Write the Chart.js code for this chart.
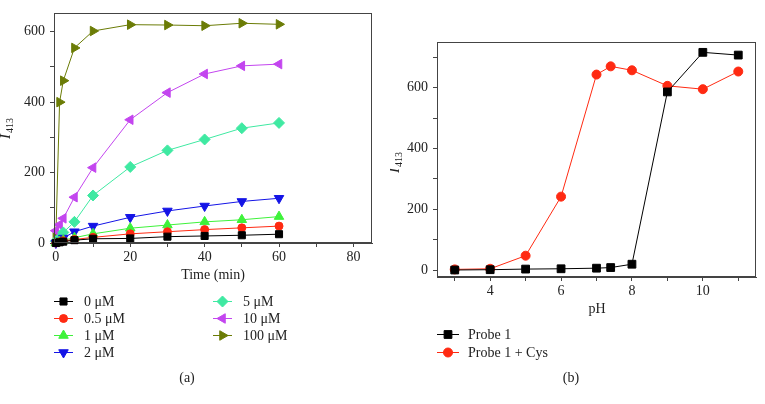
<!DOCTYPE html>
<html>
<head>
<meta charset="utf-8">
<script src="https://cdn.jsdelivr.net/npm/chart.js@4/dist/chart.umd.min.js"></script>
<style>
  html, body { margin: 0; padding: 0; background: #fff; }
  #wrap { position: relative; width: 765px; height: 404px; }
  canvas { position: absolute; top: 0; }
</style>
</head>
<body>
<div id="wrap">
  <canvas id="chartA" width="390" height="404" style="left:0"></canvas>
  <canvas id="chartB" width="375" height="404" style="left:390px"></canvas>
</div>
<script>
// panel (a): intensity vs time for each concentration
const timeMin = [0, 1, 2, 5, 10, 20, 30, 40, 50, 60];
const conc0   = [0, 2, 4, 8, 12, 13, 18, 20, 22, 25];
const conc05  = [0, 3, 6, 10, 16, 26, 32, 38, 43, 48];
const conc1   = [0, 4, 8, 15, 26, 42, 51, 60, 66, 75];
const conc2   = [0, 6, 14, 32, 48, 73, 91, 105, 118, 127];
const conc5   = [5, 14, 30, 60, 135, 216, 263, 294, 326, 341];
const conc10  = [35, 52, 70, 130, 214, 350, 427, 480, 503, 508];
const conc100 = [20, 400, 461, 554, 602, 620, 619, 617, 624, 621];
const concLabels = ['0 μM', '0.5 μM', '1 μM', '2 μM', '5 μM', '10 μM', '100 μM'];
const timeTicks = [0, 10, 20, 30, 40, 50, 60, 70, 80];
const timeTickLabels = [0, 20, 40, 60, 80];
const intTicksA = [0, 100, 200, 300, 400, 500, 600];

// panel (b): intensity vs pH
const pH = [3, 4, 5, 6, 7, 7.4, 8, 9, 10, 11];
const probe1 = [1, 2, 4, 5, 7, 9, 20, 586, 716, 707];
const probe1Cys = [3, 5, 48, 242, 643, 670, 657, 606, 595, 653];
const pbLabels = ['Probe 1', 'Probe 1 + Cys'];
const pHTicks = [3, 4, 5, 6, 7, 8, 9, 10, 11];
const pHTickLabels = [4, 6, 8, 10];
const intTicksB = [0, 100, 200, 300, 400, 500, 600, 700];
const intTickLabels = [0, 200, 400, 600];

const SERIF = '"Liberation Serif", "DejaVu Serif", serif';
Chart.defaults.font.family = SERIF;
Chart.defaults.font.size = 14;
Chart.defaults.color = '#222';

function ds(label, data, color, style, rot, r) {
  return {
    label: label, data: data,
    borderColor: color, backgroundColor: color,
    pointBackgroundColor: color, pointBorderColor: color,
    borderWidth: 1, pointBorderWidth: 1,
    pointStyle: style, pointRotation: rot, pointRadius: r, pointHoverRadius: r,
    tension: 0, clip: 10
  };
}

function toXY(xs, ys) {
  return xs.map((x, i) => ({ x: x, y: ys[i] }));
}

function axis(min, max, ticks, shown, fitKey, fitVal) {
  return {
    type: 'linear', min: min, max: max,
    afterBuildTicks: s => { s.ticks = ticks.map(v => ({ value: v })); },
    afterFit: s => { s[fitKey] = fitVal; },
    ticks: { callback: v => shown.includes(v) ? v : '', padding: fitKey === 'width' ? 5 : 2, color: '#222', autoSkip: false, maxRotation: 0 },
    grid: { drawOnChartArea: false, drawTicks: true, tickLength: 4, color: '#444' },
    border: { color: '#444', width: 1 }
  };
}

function yTitle(ctx, x, y) {
  ctx.save();
  ctx.translate(x, y);
  ctx.rotate(-Math.PI / 2);
  ctx.fillStyle = '#222';
  ctx.textBaseline = 'alphabetic';
  ctx.textAlign = 'left';
  ctx.font = 'italic 15px ' + SERIF;
  const w1 = ctx.measureText('I').width;
  ctx.font = '10px ' + SERIF;
  const w2 = ctx.measureText('413').width;
  const start = -(w1 + w2) / 2;
  ctx.font = 'italic 15px ' + SERIF;
  ctx.fillText('I', start, 0);
  ctx.font = '10px ' + SERIF;
  ctx.fillText('413', start + w1 + 1, 3);
  ctx.restore();
}

const decor = {
  id: 'decor',
  afterDraw(chart, args, o) {
    const ctx = chart.ctx, a = chart.chartArea;
    ctx.save();
    ctx.strokeStyle = '#444';
    ctx.lineWidth = 1;
    ctx.strokeRect(Math.round(a.left) + 0.5, Math.round(a.top) + 0.5,
      Math.round(a.right - a.left) - 1, Math.round(a.bottom - a.top) - 1);

    yTitle(ctx, o.yTitle[0], o.yTitle[1]);

    ctx.fillStyle = '#222';
    ctx.font = '14px ' + SERIF;
    ctx.textAlign = 'center';
    ctx.textBaseline = 'middle';
    ctx.fillText(o.xTitle, o.xTitlePos[0], o.xTitlePos[1]);
    ctx.fillText(o.caption, o.capPos[0], o.capPos[1]);

    ctx.font = '14px ' + SERIF;
    chart.data.datasets.forEach((d, i) => {
      const p = o.legend[i];
      ctx.strokeStyle = d.borderColor;
      ctx.lineWidth = 1;
      ctx.beginPath();
      ctx.moveTo(p[0], p[1] + 0.5);
      ctx.lineTo(p[0] + o.lineLen, p[1] + 0.5);
      ctx.stroke();
      ctx.fillStyle = d.pointBackgroundColor;
      Chart.helpers.drawPoint(ctx, {
        pointStyle: d.pointStyle, rotation: d.pointRotation,
        radius: d.pointRadius, borderWidth: 1
      }, p[0] + o.lineLen / 2, p[1] + 0.5);
      ctx.fillStyle = '#222';
      ctx.textAlign = 'left';
      ctx.fillText(d.label, p[0] + o.textGap, p[1] + 1);
    });
    ctx.restore();
  }
};

new Chart(document.getElementById('chartA'), {
  type: 'line',
  data: {
    datasets: [
      ds(concLabels[0], toXY(timeMin, conc0), '#000000', 'rect', 0, 5),
      ds(concLabels[1], toXY(timeMin, conc05), '#ff2a12', 'circle', 0, 4),
      ds(concLabels[2], toXY(timeMin, conc1), '#3ef23a', 'triangle', 0, 5.5),
      ds(concLabels[3], toXY(timeMin, conc2), '#1414e6', 'triangle', 180, 5.5),
      ds(concLabels[4], toXY(timeMin, conc5), '#3fe9a2', 'rectRot', 0, 5.5),
      ds(concLabels[5], toXY(timeMin, conc10), '#c345ef', 'triangle', -90, 5.5),
      ds(concLabels[6], toXY(timeMin, conc100), '#6b7c06', 'triangle', 90, 5.5)
    ]
  },
  options: {
    responsive: false,
    animation: false,
    layout: { padding: { left: 0, right: 18, top: 8, bottom: 131 } },
    plugins: {
      legend: { display: false },
      tooltip: { enabled: false },
      decor: {
        yTitle: [10, 129], xTitle: 'Time (min)', xTitlePos: [213, 275],
        caption: '(a)', capPos: [187, 378],
        lineLen: 19, textGap: 30,
        legend: [[54, 301], [54, 318], [54, 335], [54, 352], [213, 301], [213, 318], [213, 335]]
      }
    },
    scales: {
      x: axis(-0.5, 85, timeTicks, timeTickLabels, 'height', 30),
      y: axis(0, 652, intTicksA, intTickLabels, 'width', 54)
    }
  },
  plugins: [decor]
});

new Chart(document.getElementById('chartB'), {
  type: 'line',
  data: {
    datasets: [
      ds(pbLabels[0], toXY(pH, probe1), '#000000', 'rect', 0, 5.5),
      ds(pbLabels[1], toXY(pH, probe1Cys), '#ff2a12', 'circle', 0, 4.5)
    ]
  },
  options: {
    responsive: false,
    animation: false,
    layout: { padding: { left: 0, right: 9, top: 42, bottom: 97 } },
    plugins: {
      legend: { display: false },
      tooltip: { enabled: false },
      decor: {
        yTitle: [9, 163], xTitle: 'pH', xTitlePos: [207, 309],
        caption: '(b)', capPos: [181, 378],
        lineLen: 22, textGap: 31,
        legend: [[47, 334], [47, 352]]
      }
    },
    scales: {
      x: axis(2.5, 11.5, pHTicks, pHTickLabels, 'height', 30),
      y: axis(-22, 750, intTicksB, intTickLabels, 'width', 47)
    }
  },
  plugins: [decor]
});
</script>
</body>
</html>
